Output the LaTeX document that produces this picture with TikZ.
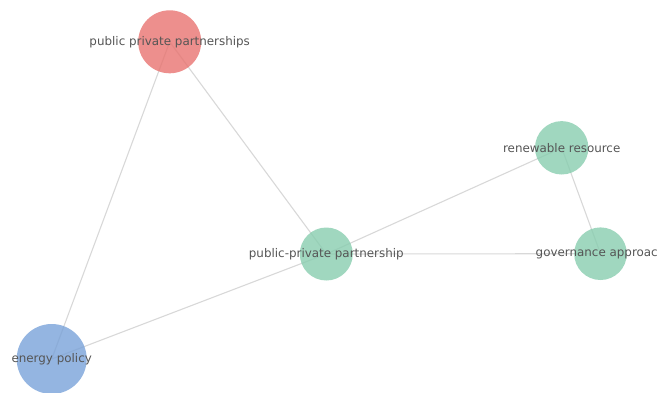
\documentclass[tikz,border=0pt]{standalone}
\usepackage{fontspec}
\setmainfont{DejaVu Sans}
\definecolor{nred}{HTML}{E87370}
\definecolor{ngreen}{HTML}{88CDAF}
\definecolor{nblue}{HTML}{79A2D9}
\definecolor{edgec}{HTML}{D8D8D8}
\definecolor{labc}{HTML}{555555}
\begin{document}
\begin{tikzpicture}[x=1pt,y=-1pt,
  dot/.style={circle,inner sep=0pt,draw=none},
  filled/.style={circle,inner sep=0pt,draw=none,fill opacity=0.8},
  lab/.style={text=labc,font=\fontsize{11.9}{13}\selectfont,inner sep=0pt},
  edge/.style={draw=edgec,line width=1.1pt}]
\useasboundingbox (0,0) rectangle (657,392);
\clip (0,0) rectangle (657,392);
\node[dot,minimum size=63pt] (ppps) at (169.7,41.8) {};
\node[dot,minimum size=53.4pt] (ren) at (561.7,147.8) {};
\node[dot,minimum size=53pt] (ppp) at (326.3,254) {};
\node[dot,minimum size=52.6pt] (gov) at (600.5,253.7) {};
\node[dot,minimum size=70pt] (en) at (51.7,359) {};
\draw[edge] (ppps.center) -- (en.center);
\draw[edge] (ppps.center) -- (ppp.center);
\draw[edge] (ppp.center) -- (ren.center);
\draw[edge] (ppp.center) -- (gov.center);
\draw[edge] (ren.center) -- (gov.center);
\draw[edge] (ppp.center) -- (en.center);
\node[filled,fill=nred,minimum size=63pt] at (ppps) {};
\node[filled,fill=ngreen,minimum size=53.4pt] at (ren) {};
\node[filled,fill=ngreen,minimum size=53pt] at (ppp) {};
\node[filled,fill=ngreen,minimum size=52.6pt] at (gov) {};
\node[filled,fill=nblue,minimum size=70pt] at (en) {};
\node[lab] (lppps) at (ppps) {public private partnerships};
\node[lab] (lren) at (ren) {renewable resource};
\node[lab] (lppp) at (ppp) {public-private partnership};
\node[lab] (lgov) at (gov) {governance approach};
\node[lab] (len) at (en) {energy policy};
\end{tikzpicture}
\end{document}
